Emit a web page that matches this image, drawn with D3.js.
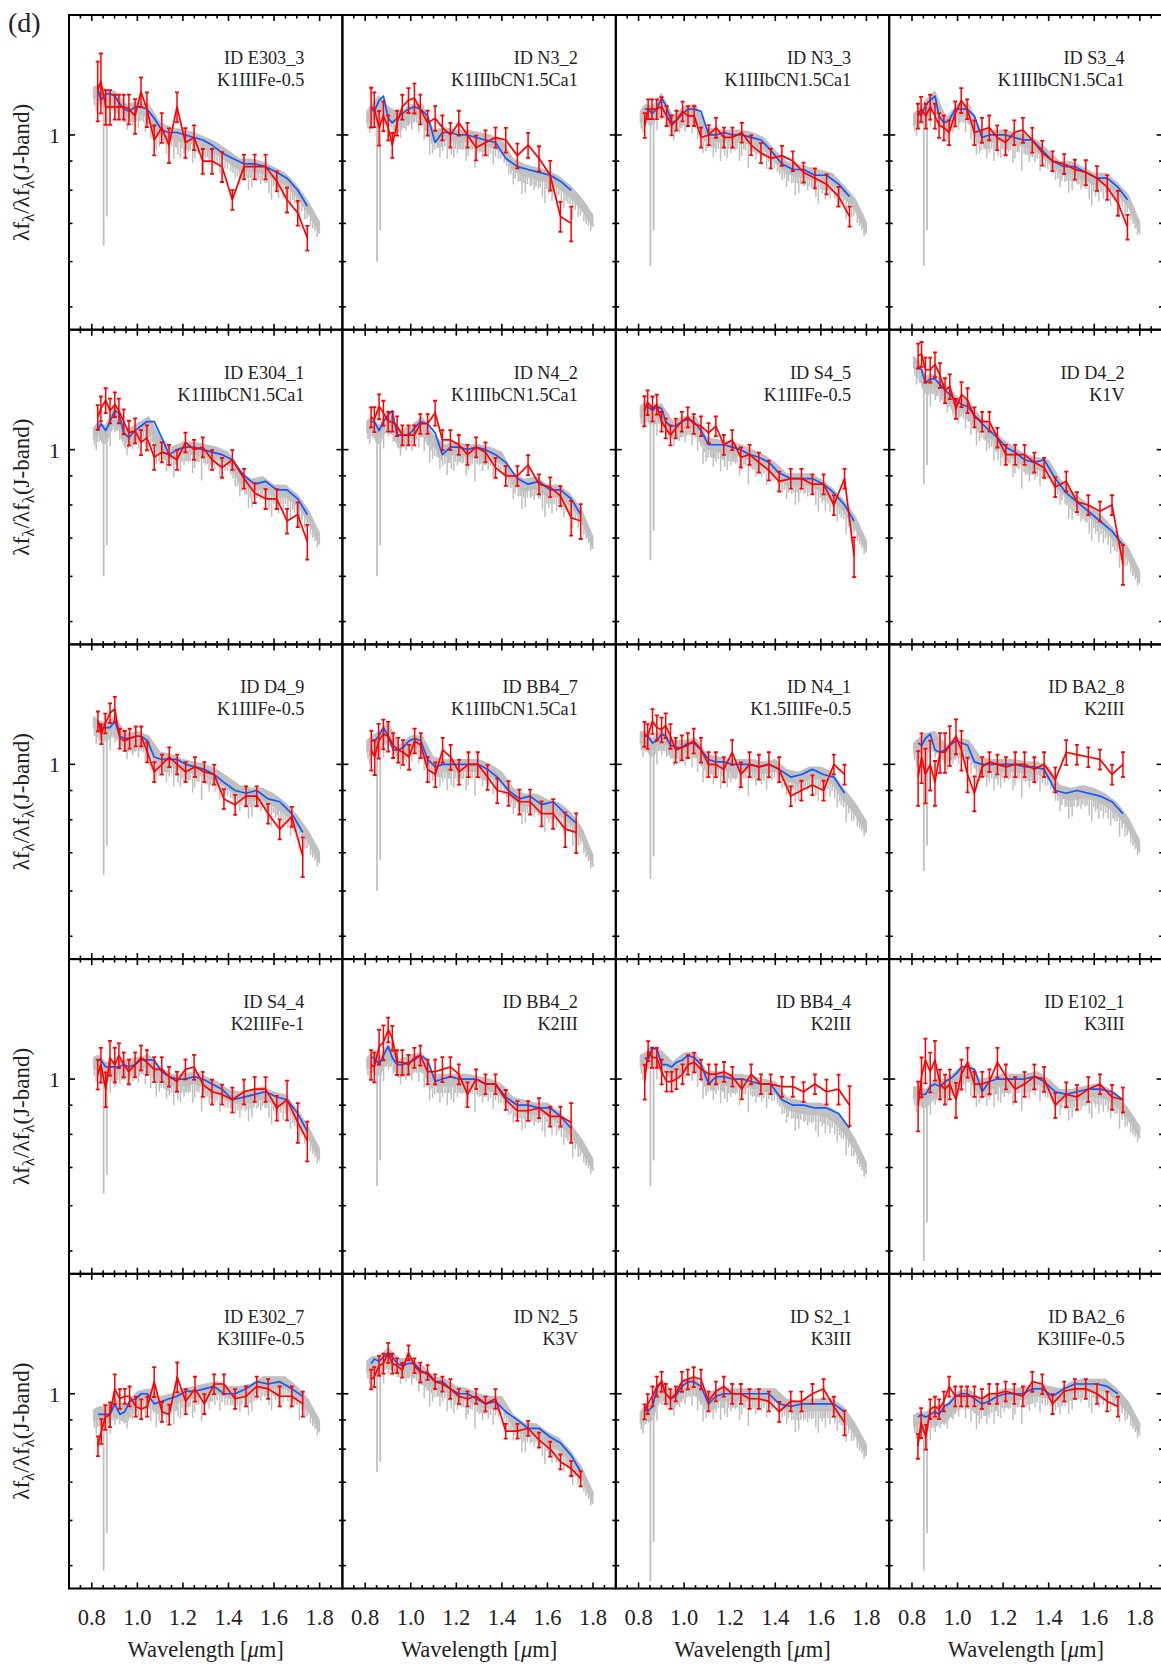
<!DOCTYPE html>
<html><head><meta charset="utf-8">
<script src="https://cdn.jsdelivr.net/npm/d3@7"></script>
<style>
body{margin:0;background:#fff;}
svg{display:block;}
text{font-family:"Liberation Serif","DejaVu Serif",serif;fill:#222;}
</style>
</head><body>
<svg id="chart" width="1161" height="1668" font-family="Liberation Serif, DejaVu Serif, serif"></svg>
<script>
// ---------------- data ----------------
const panelIds = ["ID E303_3","ID N3_2","ID N3_3","ID S3_4","ID E304_1","ID N4_2","ID S4_5","ID D4_2","ID D4_9","ID BB4_7","ID N4_1","ID BA2_8","ID S4_4","ID BB4_2","ID BB4_4","ID E102_1","ID E302_7","ID N2_5","ID S2_1","ID BA2_6"];
const spTypes = ["K1IIIFe-0.5","K1IIIbCN1.5Ca1","K1IIIbCN1.5Ca1","K1IIIbCN1.5Ca1","K1IIIbCN1.5Ca1","K1IIIbCN1.5Ca1","K1IIIFe-0.5","K1V","K1IIIFe-0.5","K1IIIbCN1.5Ca1","K1.5IIIFe-0.5","K2III","K2IIIFe-1","K2III","K2III","K3III","K3IIIFe-0.5","K3V","K3III","K3IIIFe-0.5"];

// band wavelengths (micron) of the photometric points
const gridA = [0.826,0.840,0.861,0.880,0.901,0.919,0.940,0.963,0.990,1.016,1.042,1.074,1.107,1.139,1.174,1.211,1.249,1.287,1.328,1.372,1.417,1.468,1.515,1.563,1.612,1.657,1.704,1.746];
const gridB = [0.827,0.842,0.859,0.880,0.901,0.923,0.945,0.966,0.993,1.017,1.044,1.074,1.108,1.140,1.175,1.212,1.253,1.294,1.337,1.380,1.429,1.477,1.524,1.574,1.625,1.678,1.726];
const bandGrid = ["A","A","B","A","A","A","A","B","B","B","A","B","A","A","B","B","B","A","A","A"];

// observed (red) values
const redValues = [
 [1.20,1.24,1.12,1.12,1.12,1.12,1.12,1.11,1.08,1.19,1.11,0.98,1.03,0.96,1.12,0.97,0.99,0.90,0.90,0.88,0.77,0.88,0.88,0.88,0.83,0.77,0.73,0.66],
 [1.12,1.11,1.03,1.08,1.03,0.96,1.05,1.12,1.15,1.16,1.11,1.05,1.07,1.03,1.00,1.05,1.00,0.95,0.97,0.99,0.98,0.92,0.96,0.91,0.85,0.72,0.70],
 [1.04,1.11,1.11,1.11,1.12,1.08,1.04,1.06,1.10,1.08,1.08,0.99,1.00,1.03,0.99,0.99,1.01,0.96,0.93,0.91,0.92,0.90,0.86,0.84,0.82,0.78,0.72],
 [1.08,1.11,1.08,1.12,1.08,1.04,1.03,1.01,1.09,1.15,1.11,1.01,1.02,1.03,0.99,0.97,1.01,1.02,0.98,0.93,0.90,0.89,0.87,0.86,0.84,0.81,0.76,0.69],
 [1.14,1.18,1.22,1.17,1.20,1.17,1.12,1.07,1.08,1.03,1.05,0.97,0.99,0.98,0.96,1.03,1.00,1.01,0.96,0.93,0.96,0.89,0.84,0.82,0.82,0.75,0.77,0.69],
 [1.14,1.13,1.19,1.16,1.12,1.12,1.10,1.06,1.06,1.06,1.11,1.11,1.16,1.04,1.04,1.02,0.98,1.01,0.99,0.93,0.90,0.90,0.94,0.87,0.86,0.83,0.76,0.75],
 [1.17,1.21,1.18,1.20,1.12,1.09,1.06,1.09,1.12,1.14,1.11,1.10,1.07,1.10,1.02,1.04,0.97,0.98,0.95,0.92,0.88,0.89,0.89,0.87,0.87,0.80,0.89,0.65],
 [1.46,1.47,1.38,1.38,1.41,1.35,1.27,1.29,1.18,1.25,1.22,1.14,1.12,1.12,1.05,0.98,0.98,0.98,0.95,0.93,0.86,0.88,0.81,0.80,0.78,0.80,0.63],
 [1.19,1.13,1.18,1.23,1.25,1.11,1.10,1.11,1.12,1.12,1.05,0.97,1.00,1.03,1.00,0.97,0.99,0.97,0.96,0.87,0.85,0.88,0.88,0.82,0.77,0.81,0.69],
 [1.06,1.03,1.10,1.13,1.12,1.08,1.06,1.05,1.03,1.10,1.08,0.98,0.96,1.06,1.03,0.97,1.00,1.00,0.95,0.90,0.89,0.86,0.86,0.82,0.82,0.77,0.76],
 [1.13,1.12,1.19,1.16,1.15,1.17,1.12,1.06,1.07,1.08,1.10,1.06,1.00,1.00,0.98,1.05,0.96,1.00,0.99,1.00,0.98,0.88,0.90,0.92,0.90,1.00,0.96],
 [0.95,1.03,0.96,1.00,0.93,1.05,1.05,1.08,1.12,1.06,0.96,0.89,0.99,1.01,1.00,0.99,1.00,1.00,0.98,1.00,0.94,1.05,1.04,1.03,1.02,0.96,1.00],
 [1.02,1.06,0.96,1.09,1.06,1.10,1.06,1.03,1.06,1.09,1.07,1.04,1.04,1.01,0.99,1.04,1.05,0.98,0.95,0.94,0.92,0.95,0.96,0.96,0.89,0.92,0.84,0.78],
 [1.06,1.05,1.14,1.16,1.22,1.18,1.07,1.07,1.06,1.09,1.10,1.03,1.03,1.04,1.05,1.02,0.94,1.00,0.98,0.98,0.92,0.88,0.88,0.89,0.86,0.86,0.84],
 [0.99,1.12,1.09,1.09,1.03,0.99,0.99,1.00,1.02,1.06,1.07,1.04,1.02,1.02,1.03,1.01,0.96,1.02,0.98,0.98,0.97,0.97,0.95,0.98,0.95,0.96,0.90],
 [0.90,1.01,1.08,1.03,1.08,0.98,0.96,0.98,0.92,1.02,1.07,0.98,0.98,0.99,1.07,1.01,0.96,0.98,1.01,1.00,0.90,0.94,0.93,0.96,0.98,0.93,0.92],
 [0.81,0.86,0.91,0.92,1.02,0.98,0.99,0.99,0.95,0.94,0.95,1.05,0.93,0.92,1.07,0.97,1.02,0.96,1.04,1.04,0.98,0.99,1.03,1.02,0.99,0.99,0.96],
 [1.06,1.07,1.12,1.13,1.18,1.13,1.12,1.10,1.18,1.12,1.09,1.09,1.05,1.04,1.02,0.99,0.98,0.99,0.96,0.98,0.86,0.86,0.87,0.83,0.80,0.76,0.74,0.71],
 [0.93,0.96,0.99,1.03,1.05,1.00,0.98,1.00,1.05,1.06,1.07,1.06,0.97,1.01,1.03,1.00,1.00,0.98,0.98,0.97,0.93,0.97,0.97,1.00,1.02,0.95,0.89],
 [0.81,0.89,0.84,0.94,0.95,0.94,0.97,1.03,0.99,0.99,0.99,0.99,0.98,1.00,1.00,1.01,1.00,0.99,1.05,1.04,0.96,1.01,1.02,1.02,1.00,0.97,0.95]
];

// fractional 1-sigma errors of the observed points
const redErrors = [
 [0.12,0.12,0.07,0.07,0.05,0.05,0.05,0.06,0.07,0.06,0.07,0.06,0.06,0.07,0.06,0.06,0.05,0.05,0.05,0.06,0.04,0.05,0.05,0.05,0.04,0.05,0.05,0.05],
 [0.08,0.07,0.07,0.06,0.05,0.05,0.05,0.05,0.05,0.06,0.06,0.05,0.05,0.05,0.05,0.05,0.05,0.05,0.05,0.04,0.05,0.05,0.05,0.05,0.06,0.06,0.07],
 [0.05,0.04,0.04,0.04,0.04,0.04,0.04,0.04,0.04,0.04,0.04,0.04,0.04,0.04,0.04,0.04,0.04,0.04,0.04,0.04,0.04,0.04,0.04,0.04,0.04,0.04,0.04],
 [0.05,0.05,0.05,0.05,0.05,0.05,0.05,0.05,0.05,0.05,0.04,0.05,0.05,0.05,0.05,0.05,0.05,0.05,0.05,0.05,0.04,0.04,0.04,0.05,0.05,0.05,0.05,0.05],
 [0.05,0.05,0.05,0.05,0.05,0.05,0.05,0.05,0.05,0.05,0.05,0.05,0.04,0.04,0.04,0.04,0.04,0.04,0.04,0.04,0.04,0.04,0.04,0.04,0.04,0.05,0.05,0.07],
 [0.04,0.05,0.05,0.05,0.04,0.04,0.04,0.04,0.04,0.04,0.04,0.04,0.05,0.04,0.04,0.04,0.04,0.04,0.04,0.04,0.04,0.04,0.04,0.04,0.04,0.04,0.07,0.07],
 [0.06,0.05,0.05,0.04,0.04,0.04,0.04,0.04,0.04,0.04,0.04,0.04,0.04,0.04,0.04,0.04,0.04,0.04,0.04,0.04,0.04,0.04,0.04,0.04,0.04,0.04,0.04,0.08],
 [0.05,0.05,0.05,0.05,0.05,0.05,0.05,0.05,0.04,0.05,0.05,0.04,0.04,0.04,0.04,0.04,0.04,0.04,0.04,0.04,0.04,0.04,0.04,0.04,0.04,0.04,0.08],
 [0.04,0.04,0.04,0.04,0.05,0.04,0.04,0.04,0.04,0.04,0.04,0.04,0.04,0.04,0.04,0.04,0.04,0.04,0.04,0.04,0.04,0.04,0.04,0.04,0.04,0.04,0.08],
 [0.08,0.07,0.07,0.06,0.06,0.05,0.05,0.05,0.05,0.05,0.05,0.05,0.05,0.05,0.05,0.05,0.05,0.05,0.05,0.05,0.05,0.05,0.05,0.05,0.06,0.07,0.08],
 [0.05,0.05,0.05,0.05,0.05,0.05,0.05,0.05,0.05,0.05,0.05,0.05,0.05,0.05,0.05,0.05,0.05,0.05,0.05,0.05,0.05,0.04,0.04,0.04,0.04,0.04,0.04],
 [0.11,0.10,0.11,0.10,0.09,0.08,0.08,0.08,0.07,0.08,0.07,0.07,0.04,0.04,0.04,0.04,0.05,0.05,0.05,0.05,0.05,0.05,0.04,0.04,0.04,0.04,0.05],
 [0.06,0.07,0.07,0.07,0.07,0.05,0.05,0.05,0.05,0.05,0.05,0.05,0.05,0.04,0.04,0.04,0.05,0.05,0.05,0.04,0.05,0.05,0.05,0.05,0.05,0.08,0.08,0.08],
 [0.06,0.06,0.07,0.07,0.05,0.05,0.05,0.05,0.04,0.04,0.04,0.05,0.05,0.05,0.04,0.04,0.05,0.04,0.04,0.04,0.04,0.04,0.04,0.04,0.04,0.04,0.08],
 [0.07,0.04,0.04,0.04,0.05,0.04,0.04,0.04,0.04,0.04,0.04,0.04,0.04,0.04,0.04,0.04,0.04,0.04,0.04,0.04,0.04,0.04,0.04,0.04,0.05,0.06,0.08],
 [0.10,0.08,0.09,0.08,0.08,0.06,0.06,0.06,0.07,0.06,0.06,0.05,0.05,0.05,0.06,0.05,0.05,0.05,0.05,0.05,0.05,0.05,0.05,0.05,0.04,0.05,0.05],
 [0.04,0.05,0.05,0.05,0.06,0.04,0.03,0.04,0.04,0.04,0.04,0.06,0.04,0.04,0.06,0.05,0.05,0.04,0.04,0.04,0.04,0.04,0.04,0.04,0.04,0.04,0.05],
 [0.04,0.04,0.04,0.04,0.04,0.04,0.03,0.03,0.03,0.03,0.04,0.03,0.03,0.03,0.04,0.03,0.03,0.03,0.03,0.04,0.03,0.03,0.03,0.03,0.03,0.03,0.03,0.03],
 [0.03,0.04,0.04,0.04,0.04,0.04,0.04,0.03,0.04,0.04,0.04,0.04,0.04,0.04,0.04,0.04,0.04,0.04,0.04,0.04,0.04,0.04,0.04,0.04,0.04,0.04,0.05],
 [0.05,0.06,0.05,0.04,0.04,0.04,0.04,0.04,0.04,0.04,0.04,0.04,0.04,0.04,0.04,0.04,0.04,0.04,0.04,0.04,0.04,0.04,0.04,0.04,0.04,0.04,0.04]
];

// template synthetic photometry (blue)
const blueValues = [
 [1.21,1.15,1.18,1.18,1.17,1.14,1.11,1.10,1.12,1.12,1.11,1.07,1.02,1.01,1.01,1.00,0.99,0.98,0.96,0.93,0.91,0.89,0.89,0.88,0.86,0.84,0.80,0.75],
 [1.11,1.10,1.15,1.17,1.07,1.05,1.07,1.09,1.11,1.12,1.11,1.08,0.97,1.01,1.01,1.00,1.00,0.99,0.98,0.97,0.91,0.88,0.87,0.86,0.85,0.83,0.80],
 [1.11,1.11,1.09,1.11,1.16,1.12,1.05,1.06,1.09,1.11,1.11,1.10,1.00,1.00,1.01,1.00,1.00,0.99,0.98,0.94,0.89,0.87,0.87,0.85,0.85,0.82,0.78],
 [1.10,1.08,1.13,1.15,1.17,1.08,1.05,1.06,1.11,1.11,1.11,1.08,0.99,1.00,1.00,1.00,0.99,0.98,0.98,0.94,0.90,0.88,0.88,0.86,0.84,0.84,0.81,0.77],
 [1.08,1.11,1.08,1.12,1.17,1.16,1.07,1.05,1.08,1.10,1.12,1.12,1.05,0.98,1.00,1.01,1.01,1.00,0.99,0.98,0.96,0.90,0.87,0.88,0.85,0.85,0.82,0.77],
 [1.12,1.12,1.08,1.12,1.15,1.17,1.06,1.06,1.06,1.09,1.12,1.11,1.07,0.98,1.01,1.01,1.00,1.01,1.00,0.98,0.95,0.89,0.87,0.88,0.85,0.85,0.82,0.77],
 [1.19,1.19,1.17,1.19,1.18,1.12,1.10,1.10,1.12,1.13,1.12,1.08,1.02,1.02,1.02,1.01,1.00,0.98,0.97,0.95,0.91,0.89,0.89,0.89,0.87,0.84,0.80,0.75],
 [1.40,1.38,1.31,1.33,1.33,1.30,1.27,1.25,1.22,1.20,1.19,1.15,1.11,1.08,1.05,1.01,0.99,0.96,0.95,0.96,0.89,0.84,0.81,0.78,0.75,0.72,0.68],
 [1.19,1.16,1.16,1.16,1.19,1.12,1.11,1.11,1.12,1.12,1.10,1.03,1.02,1.02,1.02,1.00,0.99,0.98,0.96,0.93,0.90,0.89,0.90,0.87,0.86,0.82,0.76],
 [1.10,1.10,1.12,1.16,1.12,1.06,1.06,1.07,1.10,1.11,1.10,1.02,0.99,1.00,1.00,1.00,1.00,1.00,0.98,0.95,0.90,0.87,0.88,0.85,0.86,0.82,0.79],
 [1.12,1.12,1.09,1.10,1.13,1.12,1.08,1.07,1.07,1.09,1.09,1.06,1.02,1.01,1.01,1.00,1.00,1.00,0.99,1.00,0.98,0.95,0.96,0.98,0.96,0.95,0.89],
 [1.09,1.08,1.11,1.13,1.06,1.05,1.06,1.08,1.10,1.09,1.08,1.01,1.00,1.00,1.00,1.00,1.00,0.99,0.99,0.98,0.90,0.89,0.90,0.89,0.88,0.86,0.82],
 [1.08,1.08,1.05,1.05,1.05,1.05,1.06,1.05,1.06,1.08,1.08,1.08,1.03,1.01,1.00,1.00,1.01,1.00,0.98,0.96,0.92,0.93,0.94,0.95,0.93,0.92,0.87,0.81],
 [1.09,1.09,1.06,1.10,1.14,1.09,1.06,1.06,1.07,1.08,1.10,1.08,0.99,1.00,1.01,1.00,1.00,1.00,0.98,0.98,0.93,0.90,0.90,0.89,0.89,0.86,0.82],
 [1.09,1.08,1.13,1.13,1.06,1.06,1.05,1.07,1.08,1.10,1.09,1.06,0.98,1.01,1.01,1.00,1.00,0.99,0.98,0.98,0.92,0.90,0.90,0.89,0.89,0.87,0.82],
 [0.95,0.94,0.94,0.97,0.98,0.97,0.99,1.00,1.02,1.05,1.05,1.04,0.95,0.99,1.00,1.00,1.00,1.00,1.01,0.99,0.95,0.94,0.95,0.96,0.96,0.95,0.92],
 [0.92,0.92,0.92,0.92,0.96,0.92,0.93,0.97,0.98,1.00,1.00,0.96,0.97,0.98,0.99,1.01,1.01,1.02,1.03,1.00,1.00,1.02,1.05,1.04,1.05,1.02,0.99],
 [1.13,1.15,1.14,1.16,1.18,1.16,1.13,1.12,1.13,1.13,1.10,1.08,1.05,1.05,1.02,1.00,1.00,0.98,0.96,0.97,0.93,0.90,0.87,0.87,0.84,0.82,0.78,0.73],
 [0.95,0.93,0.95,1.02,1.05,1.00,0.98,0.99,1.03,1.05,1.05,1.03,0.96,0.99,1.00,1.00,1.00,1.00,1.00,1.00,0.96,0.95,0.96,0.96,0.96,0.96,0.93],
 [0.91,0.92,0.91,0.92,0.93,0.92,0.95,0.96,0.99,1.00,1.00,0.98,0.96,0.97,0.99,1.00,1.00,1.00,1.02,1.02,0.99,1.02,1.04,1.04,1.04,1.03,1.00]
];

// template spectrum continuum (gray), sampled at grayWl
const grayWl = [0.807,0.83,0.86,0.90,0.95,1.00,1.05,1.10,1.15,1.20,1.25,1.30,1.35,1.40,1.45,1.50,1.55,1.60,1.65,1.70,1.75,1.80];
const grayValues = [
 [1.19,1.20,1.18,1.17,1.11,1.12,1.11,1.03,1.01,1.00,0.99,0.97,0.95,0.92,0.89,0.89,0.88,0.86,0.84,0.80,0.75,0.69],
 [1.08,1.11,1.15,1.10,1.07,1.11,1.11,1.00,1.01,1.00,1.00,0.99,0.98,0.96,0.89,0.87,0.86,0.85,0.83,0.80,0.76,0.71],
 [1.08,1.11,1.10,1.16,1.06,1.10,1.11,1.01,1.00,1.00,1.00,0.99,0.97,0.92,0.88,0.87,0.86,0.85,0.84,0.80,0.76,0.69],
 [1.07,1.09,1.13,1.17,1.05,1.11,1.11,1.00,1.00,1.00,0.99,0.98,0.96,0.92,0.88,0.88,0.86,0.84,0.84,0.81,0.77,0.69],
 [1.07,1.10,1.08,1.17,1.06,1.09,1.12,1.03,0.99,1.01,1.01,1.00,0.99,0.97,0.90,0.87,0.88,0.85,0.85,0.82,0.77,0.70],
 [1.10,1.12,1.08,1.15,1.06,1.08,1.12,1.04,1.00,1.01,1.00,1.00,0.99,0.97,0.89,0.87,0.88,0.85,0.85,0.82,0.77,0.69],
 [1.17,1.19,1.17,1.18,1.10,1.12,1.12,1.03,1.02,1.01,1.00,0.98,0.96,0.93,0.89,0.89,0.89,0.87,0.84,0.80,0.75,0.68],
 [1.43,1.40,1.32,1.33,1.27,1.21,1.19,1.12,1.07,1.02,0.99,0.96,0.95,0.94,0.87,0.83,0.80,0.77,0.74,0.70,0.66,0.60],
 [1.19,1.17,1.16,1.19,1.11,1.12,1.10,1.03,1.02,1.00,0.99,0.98,0.96,0.93,0.90,0.89,0.89,0.87,0.84,0.80,0.75,0.69],
 [1.08,1.10,1.12,1.16,1.06,1.10,1.10,1.01,1.00,1.00,1.00,1.00,0.98,0.95,0.89,0.87,0.87,0.85,0.84,0.81,0.76,0.68],
 [1.12,1.12,1.09,1.13,1.08,1.08,1.09,1.02,1.01,1.00,1.00,1.00,0.99,1.00,0.96,0.95,0.97,0.97,0.95,0.89,0.84,0.78],
 [1.07,1.09,1.11,1.12,1.06,1.09,1.08,1.01,1.00,1.00,1.00,0.99,0.99,0.97,0.90,0.89,0.90,0.89,0.87,0.84,0.79,0.72],
 [1.07,1.08,1.05,1.05,1.06,1.07,1.08,1.03,1.00,1.00,1.01,0.99,0.97,0.94,0.93,0.94,0.95,0.93,0.92,0.87,0.81,0.74],
 [1.07,1.09,1.07,1.13,1.06,1.08,1.09,1.00,1.00,1.00,1.00,0.99,0.98,0.96,0.91,0.90,0.89,0.89,0.86,0.82,0.77,0.71],
 [1.08,1.09,1.12,1.10,1.05,1.09,1.09,1.01,1.01,1.00,1.00,0.99,0.98,0.97,0.91,0.90,0.89,0.89,0.87,0.83,0.77,0.70],
 [0.95,0.95,0.94,0.98,0.98,1.02,1.05,0.98,0.99,1.00,1.00,1.00,1.01,0.98,0.94,0.94,0.95,0.96,0.95,0.92,0.87,0.81],
 [0.92,0.93,0.93,0.96,0.94,0.99,1.00,0.97,0.98,1.00,1.01,1.02,1.03,1.01,1.01,1.02,1.05,1.05,1.05,1.01,0.96,0.88],
 [1.12,1.14,1.14,1.18,1.13,1.13,1.10,1.05,1.04,1.01,1.00,0.98,0.97,0.97,0.90,0.87,0.87,0.84,0.82,0.78,0.73,0.66],
 [0.91,0.94,0.95,1.04,0.99,1.04,1.05,0.98,1.00,1.00,1.00,1.00,1.00,1.00,0.96,0.95,0.96,0.96,0.96,0.93,0.87,0.80],
 [0.90,0.91,0.91,0.93,0.94,0.99,1.00,0.96,0.98,1.00,1.00,1.01,1.02,1.01,1.00,1.03,1.04,1.04,1.04,1.00,0.95,0.87]
];

// absorption features of the template spectrum: [wavelength, fractional depth]
const grayLines = [
 [0.8195,0.08],[0.8327,0.06],[0.8388,0.05],[0.8468,0.06],[0.8690,0.06],[0.8807,0.10],[0.8930,0.06],[0.9020,0.08],
 [0.9085,0.06],[0.9230,0.07],[0.9420,0.06],[0.9550,0.08],[0.9660,0.05],[0.9795,0.07],[0.9900,0.06],[1.0045,0.08],
 [1.0175,0.05],[1.0350,0.09],[1.0480,0.06],[1.0590,0.10],[1.0720,0.06],[1.0830,0.11],[1.0960,0.08],[1.1050,0.06],
 [1.1280,0.09],[1.1400,0.07],[1.1600,0.10],[1.1780,0.08],[1.1890,0.09],[1.2050,0.07],[1.2250,0.06],[1.2430,0.10],
 [1.2520,0.08],[1.2820,0.12],[1.3000,0.06],[1.3150,0.08],[1.3400,0.07],[1.3620,0.09],[1.3850,0.06],[1.4300,0.07],
 [1.4500,0.08],[1.4720,0.06],[1.4880,0.10],[1.5030,0.09],[1.5250,0.06],[1.5420,0.07],[1.5600,0.06],[1.5780,0.09],
 [1.5890,0.11],[1.6060,0.07],[1.6200,0.09],[1.6400,0.08],[1.6610,0.07],[1.6720,0.09],[1.6900,0.06],[1.7110,0.10],
 [1.7350,0.07],[1.7600,0.06],[1.7800,0.05]
];
// weaker features that give the template its ragged texture
const weakLines = [
 0.812,0.824,0.843,0.858,0.874,0.886,0.898,0.914,0.930,0.936,0.948,0.960,0.972,0.985,0.996,1.010,1.026,1.041,1.054,1.066,
 1.078,1.090,1.116,1.122,1.134,1.150,1.166,1.172,1.196,1.212,1.218,1.232,1.262,1.270,1.292,1.308,1.322,1.330,1.350,1.372,
 1.396,1.410,1.420,1.440,1.458,1.480,1.496,1.512,1.532,1.550,1.568,1.598,1.614,1.630,1.650,1.682,1.700,1.722,1.745,1.770,1.790
];
// Ca II triplet lines and the level each reaches in every panel
const caWl = [0.852,0.866];
const caBottom = [
 [0.64,0.72],[0.60,0.68],[0.59,0.68],[0.59,0.68],[0.60,0.68],[0.60,0.68],[0.64,0.72],[0.87,0.94],[0.64,0.72],[0.60,0.68],
 [0.63,0.69],[0.65,0.72],[0.63,0.68],[0.65,0.72],[0.65,0.72],[0.48,0.56],[0.49,0.57],[0.73,0.76],[0.47,0.55],[0.49,0.57]
];

// axes
const xDomain = [0.7,1.9];
const yDomain = [0.456,1.622];
const xMajorTicks = [0.8,1.0,1.2,1.4,1.6,1.8];
const xTickLabels = ["0.8","1.0","1.2","1.4","1.6","1.8"];
const xMinorTicks = [0.75,0.85,0.9,0.95,1.05,1.1,1.15,1.25,1.3,1.35,1.45,1.5,1.55,1.65,1.7,1.75,1.85];
const yMajorTicks = [1];
const yTickLabels = ["1"];
const yMinorTicks = [0.5,0.6,0.7,0.8,0.9];

// ---------------- drawing ----------------
const FONT = "Liberation Serif, DejaVu Serif, serif";
const svg = d3.select("#chart");
const L = {left:69, top:15, w:273.4, h:314.7, nCols:4, nRows:5};
const gridOf = {A:gridA, B:gridB};
const GRAY = "#c0c0c0", RED = "#ff0000", BLUE = "#1058ff";

const x = d3.scaleLinear().domain(xDomain).range([0, L.w]);
const y = d3.scaleLog().domain(yDomain).range([L.h, 0]);

panelIds.forEach((id, i) => {
  const r = Math.floor(i / L.nCols), c = i % L.nCols;
  const g = svg.append("g").attr("transform", `translate(${L.left + c * L.w},${L.top + r * L.h})`);
  const clipId = "clip" + i;
  g.append("clipPath").attr("id", clipId).append("rect").attr("width", L.w).attr("height", L.h);
  const d = g.append("g").attr("clip-path", `url(#${clipId})`);

  // gray template spectrum
  const cont = d3.scaleLinear().domain(grayWl).range(grayValues[i]);
  const gpts = grayWl.map((w, k) => [w, grayValues[i][k]]);
  d.append("path").datum(gpts)
    .attr("d", d3.area().x(p => x(p[0])).y0(p => y(p[1] * 0.972)).y1(p => y(p[1] * 1.02)))
    .attr("fill", GRAY).attr("stroke", GRAY).attr("stroke-width", 1);
  d.selectAll("line.weak").data(weakLines).join("line").attr("class", "weak")
    .attr("x1", w => x(w)).attr("x2", w => x(w))
    .attr("y1", w => y(cont(w) * 0.98)).attr("y2", w => y(cont(w) * 0.945))
    .attr("stroke", GRAY).attr("stroke-width", 1.6);
  d.selectAll("line.dip").data(grayLines).join("line").attr("class", "dip")
    .attr("x1", p => x(p[0])).attr("x2", p => x(p[0]))
    .attr("y1", p => y(cont(p[0]) * 0.98)).attr("y2", p => y(cont(p[0]) * (1 - p[1])))
    .attr("stroke", GRAY).attr("stroke-width", 1.5);
  d.selectAll("line.ca").data(caWl.map((w, k) => [w, caBottom[i][k]])).join("line").attr("class", "ca")
    .attr("x1", p => x(p[0])).attr("x2", p => x(p[0]))
    .attr("y1", p => y(cont(p[0]) * 0.98)).attr("y2", p => y(p[1]))
    .attr("stroke", GRAY).attr("stroke-width", 1.8);

  const wl = gridOf[bandGrid[i]];
  const bpts = blueValues[i].map((v, k) => [wl[k], v]);
  const rpts = redValues[i].map((v, k) => [wl[k], v, redErrors[i][k]]);
  const line = d3.line().x(p => x(p[0])).y(p => y(p[1]));

  // blue model
  d.append("path").datum(bpts).attr("d", line)
    .attr("fill", "none").attr("stroke", BLUE).attr("stroke-width", 1.7).attr("stroke-linejoin", "round");

  // red observed with error bars
  d.append("path").datum(rpts).attr("d", line)
    .attr("fill", "none").attr("stroke", RED).attr("stroke-width", 1.7).attr("stroke-linejoin", "round");
  const eb = d.selectAll("g.eb").data(rpts).join("g").attr("class", "eb");
  eb.append("line")
    .attr("x1", p => x(p[0])).attr("x2", p => x(p[0]))
    .attr("y1", p => y(p[1] * (1 - p[2]))).attr("y2", p => y(p[1] * (1 + p[2])))
    .attr("stroke", RED).attr("stroke-width", 1.5);
  [-1, 1].forEach(s => {
    eb.append("line")
      .attr("x1", p => x(p[0]) - 2).attr("x2", p => x(p[0]) + 2)
      .attr("y1", p => y(p[1] * (1 + s * p[2]))).attr("y2", p => y(p[1] * (1 + s * p[2])))
      .attr("stroke", RED).attr("stroke-width", 1.8);
  });

  // frame
  g.append("rect").attr("width", L.w).attr("height", L.h)
    .attr("fill", "none").attr("stroke", "#000").attr("stroke-width", 2);

  // ticks (inward)
  const tk = g.append("g").attr("stroke", "#000").attr("stroke-width", 1.6);
  const xt = (vals, len) => vals.forEach(v => {
    tk.append("line").attr("x1", x(v)).attr("x2", x(v)).attr("y1", L.h).attr("y2", L.h - len);
    tk.append("line").attr("x1", x(v)).attr("x2", x(v)).attr("y1", 0).attr("y2", len);
  });
  xt(xMajorTicks, 6); xt(xMinorTicks, 3.5);
  const yt = (vals, len) => vals.forEach(v => {
    tk.append("line").attr("x1", 0).attr("x2", len).attr("y1", y(v)).attr("y2", y(v));
    tk.append("line").attr("x1", L.w).attr("x2", L.w - len).attr("y1", y(v)).attr("y2", y(v));
  });
  yt(yMajorTicks, 6); yt(yMinorTicks, 3.5);

  // panel labels
  g.append("text").attr("x", L.w - 38).attr("y", 49).attr("text-anchor", "end")
    .attr("font-family", FONT).attr("font-size", 18.2).text(id);
  g.append("text").attr("x", L.w - 38).attr("y", 71).attr("text-anchor", "end")
    .attr("font-family", FONT).attr("font-size", 18.2).text(spTypes[i]);

  // left tick labels and y title
  if (c === 0) {
    yMajorTicks.forEach((v, k) => {
      g.append("text").attr("x", -9).attr("y", y(v)).attr("dy", "0.36em")
        .attr("text-anchor", "end").attr("font-family", FONT).attr("font-size", 22).text(yTickLabels[k]);
    });
    const t = g.append("text").attr("transform", `translate(-40,${L.h / 2}) rotate(-90)`)
      .attr("text-anchor", "middle").attr("font-family", FONT).attr("font-size", 23);
    t.append("tspan").text("λf");
    t.append("tspan").attr("font-size", 17).attr("dy", 5).text("λ");
    t.append("tspan").attr("dy", -5).text("/λf");
    t.append("tspan").attr("font-size", 17).attr("dy", 5).text("λ");
    t.append("tspan").attr("dy", -5).text("(J-band)");
  }
  // bottom tick labels and x title
  if (r === L.nRows - 1) {
    xMajorTicks.forEach((v, k) => {
      g.append("text").attr("x", x(v)).attr("y", L.h + 37).attr("text-anchor", "middle")
        .attr("font-family", FONT).attr("font-size", 22.5).text(xTickLabels[k]);
    });
    const t = g.append("text").attr("x", L.w / 2).attr("y", L.h + 69).attr("text-anchor", "middle")
      .attr("font-family", FONT).attr("font-size", 22.5);
    t.append("tspan").text("Wavelength [");
    t.append("tspan").attr("font-style", "italic").text("μ");
    t.append("tspan").text("m]");
  }
});

svg.append("text").attr("x", 8).attr("y", 32).attr("font-family", FONT).attr("font-size", 28).text("(d)");
</script>
</body></html>
